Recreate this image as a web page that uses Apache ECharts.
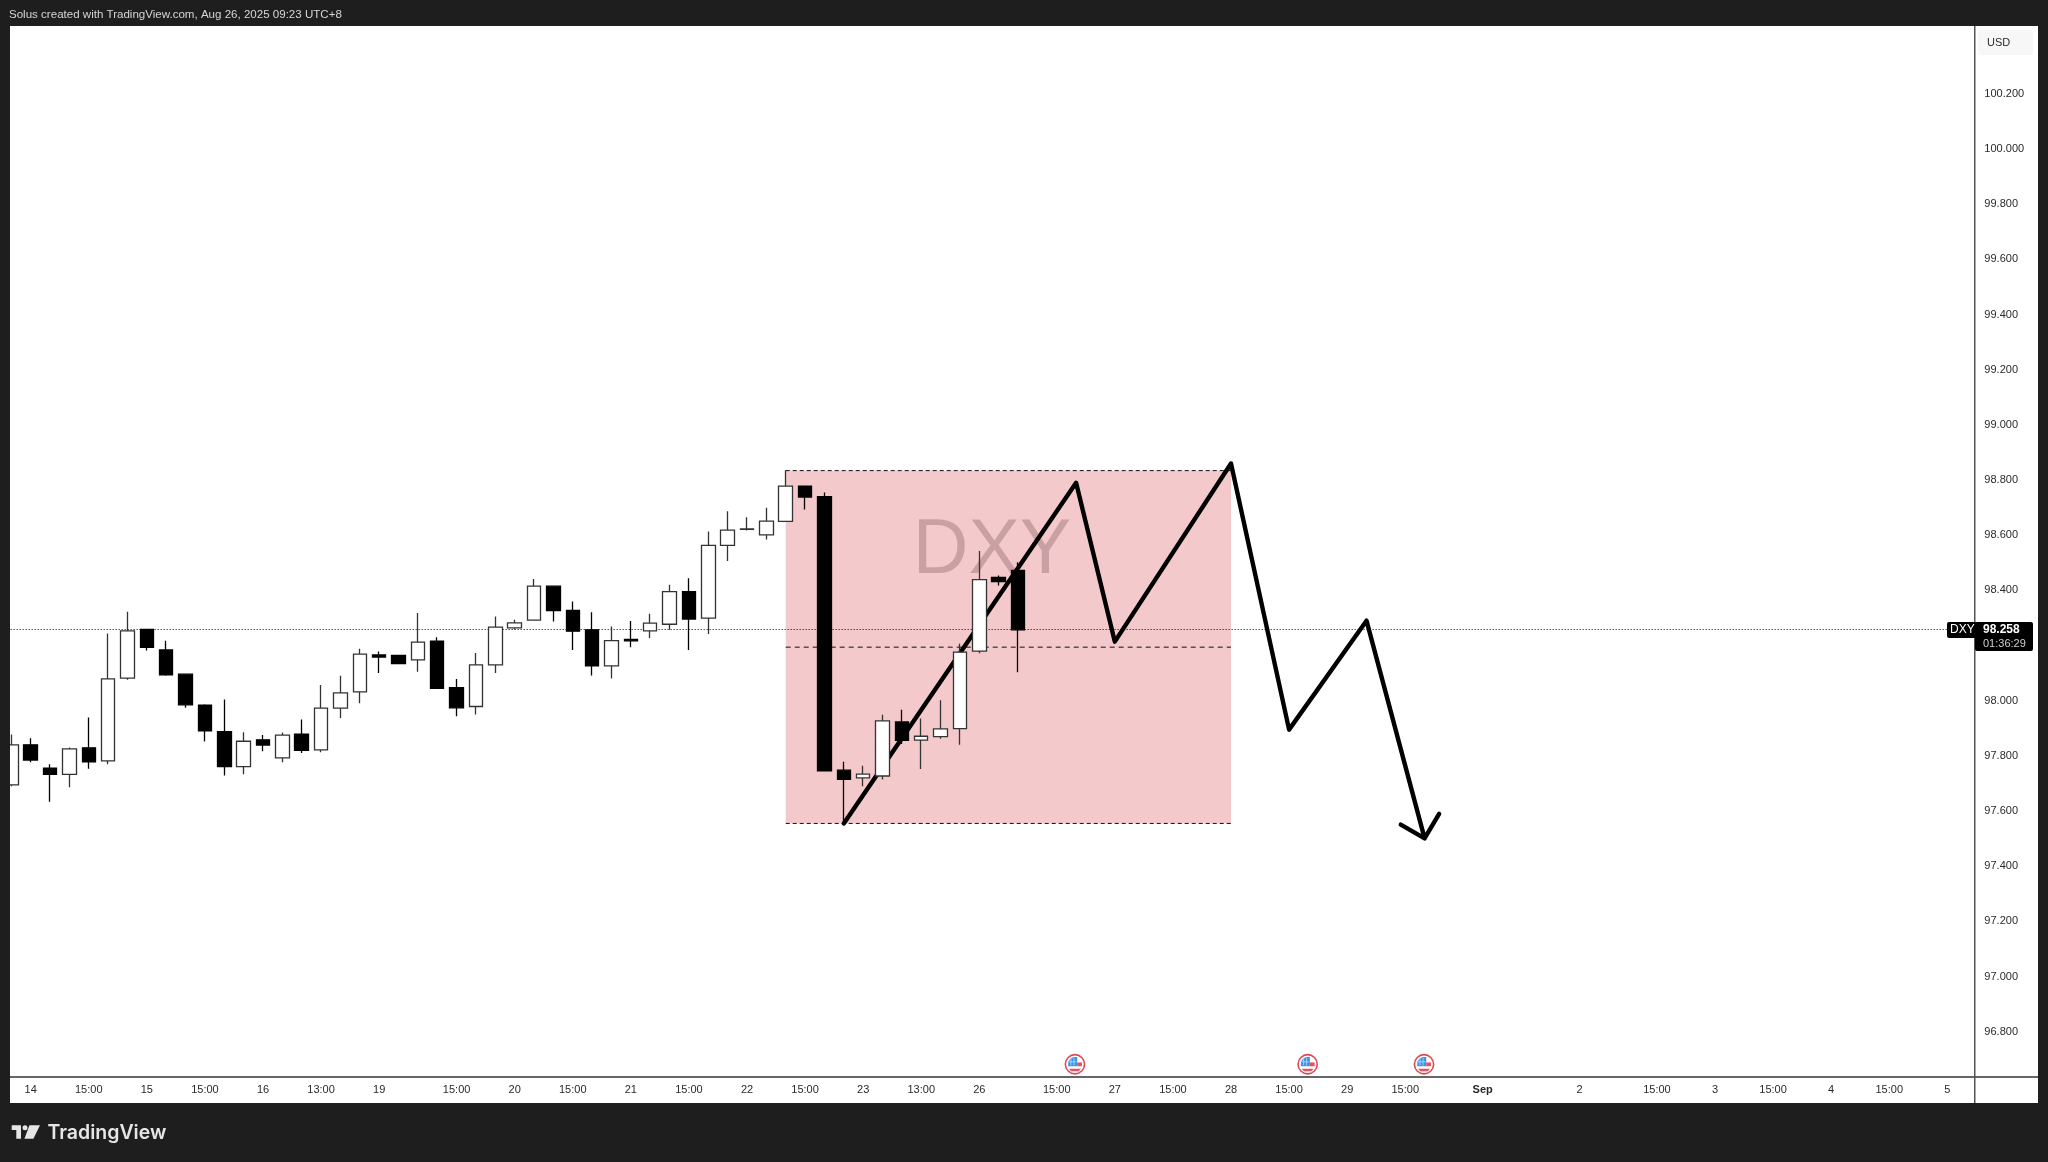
<!DOCTYPE html>
<html>
<head>
<meta charset="utf-8">
<title>DXY</title>
<style>
  html, body { margin: 0; padding: 0; background: #1e1e1e; }
  #chart { width: 2048px; height: 1162px; }
</style>
<script src="https://cdn.jsdelivr.net/npm/echarts@6/dist/echarts.min.js"></script>
</head>
<body>
<div id="chart"></div>
<script>
  // candles, one per 4h bar
  const opens = [97.695,97.840,97.755,97.733,97.829,97.782,98.082,98.258,98.184,98.096,97.984,97.888,97.761,97.858,97.793,97.879,97.822,97.973,98.032,98.166,98.164,98.148,98.216,98.047,97.979,98.130,98.264,98.292,98.415,98.327,98.257,98.126,98.222,98.253,98.277,98.395,98.299,98.563,98.621,98.601,98.650,98.778,98.740,97.748,97.720,97.727,97.923,97.857,97.870,97.899,98.180,98.447,98.472];
  const closes = [97.840,97.785,97.733,97.825,97.778,98.079,98.253,98.193,98.094,97.985,97.891,97.761,97.853,97.839,97.875,97.820,97.973,98.028,98.169,98.158,98.134,98.212,98.045,97.974,98.130,98.267,98.282,98.415,98.327,98.252,98.126,98.218,98.217,98.281,98.395,98.296,98.563,98.618,98.623,98.651,98.778,98.738,97.746,97.715,97.734,97.927,97.856,97.871,97.898,98.176,98.439,98.432,98.257];
  const lows = [97.690,97.777,97.634,97.686,97.753,97.770,98.076,98.182,98.090,97.974,97.852,97.729,97.733,97.817,97.777,97.810,97.813,97.937,97.991,98.100,98.134,98.105,98.045,97.944,97.950,98.100,98.258,98.292,98.287,98.184,98.091,98.080,98.194,98.227,98.257,98.184,98.242,98.506,98.617,98.584,98.650,98.693,97.743,97.555,97.690,97.714,97.843,97.752,97.862,97.840,98.172,98.418,98.103];
  const highs = [97.877,97.864,97.770,97.830,97.939,98.244,98.322,98.258,98.217,98.096,97.987,98.004,97.886,97.876,97.885,97.932,98.057,98.090,98.188,98.178,98.166,98.318,98.230,98.079,98.173,98.305,98.293,98.441,98.415,98.360,98.321,98.269,98.289,98.315,98.420,98.444,98.613,98.687,98.665,98.699,98.835,98.778,98.755,97.779,97.764,97.949,97.967,97.935,98.002,98.206,98.543,98.454,98.502];

  // time axis
  const barCount = 102;
  const tickBars = [1,4,7,10,13,16,19,23,26,29,32,35,38,41,44,47,50,54,57,60,63,66,69,72,76,81,85,88,91,94,97,100];
  const tickLabels = ['14','15:00','15','15:00','16','13:00','19','15:00','20','15:00','21','15:00','22','15:00','23','13:00','26','15:00','27','15:00','28','15:00','29','15:00','Sep','2','15:00','3','15:00','4','15:00','5'];

  // price axis
  const priceTicks = [96.8,97.0,97.2,97.4,97.6,97.8,98.0,98.2,98.4,98.6,98.8,99.0,99.2,99.4,99.6,99.8,100.0,100.2];
  const priceMin = 96.634;
  const priceMax = 100.444;
  const lastPrice = 98.258;

  // pink zone
  const zoneBars = [40, 63];
  const zoneTop = 98.834;
  const zoneMid = 98.194;
  const zoneBottom = 97.555;

  // hand drawn projection, last points are the arrow head
  const pathBars = [43,55,57,63,66,70,73,71.77,73,73.75];
  const pathPrices = [97.555,98.790,98.214,98.860,97.895,98.290,97.501,97.551,97.501,97.590];

  // news flags above the time axis
  const eventBars = [54.94,66.96,72.97];
  const eventPrice = 96.682;

  const categories = [];
  for (let i = 0; i < barCount; i++) {
    const at = tickBars.indexOf(i);
    categories.push(at >= 0 ? tickLabels[at] : '');
  }

  const candles = opens.map((o, i) => [o, closes[i], lows[i], highs[i]]);

  function zoneLine(price, dash) {
    return {
      type: 'line',
      xAxisIndex: 1,
      z: 1.7,
      silent: true,
      symbol: 'none',
      lineStyle: { color: '#111', width: 1, type: dash },
      data: [[zoneBars[0], price], [zoneBars[1], price]]
    };
  }

  function renderFlag(params, api) {
    const p = api.coord([api.value(0), api.value(1)]);
    return {
      type: 'group',
      x: p[0],
      y: p[1],
      children: [
        { type: 'circle', shape: { r: 9.6 }, style: { fill: '#fff', stroke: '#dd4a56', lineWidth: 1.6 } },
        { type: 'polygon', shape: { points: [[-6.8,2],[-6.6,-2.6],[-4.6,-5.6],[-1.6,-7.2],[2.2,-7.2],[2.2,2]] }, style: { fill: '#3b93ea' } },
        { type: 'rect', shape: { x: -4.4, y: -6, width: 0.8, height: 7 }, style: { fill: '#bcdcf8' } },
        { type: 'rect', shape: { x: -1.4, y: -6.8, width: 0.8, height: 8 }, style: { fill: '#bcdcf8' } },
        { type: 'rect', shape: { x: -6, y: -2.8, width: 7.5, height: 0.8 }, style: { fill: '#bcdcf8' } },
        { type: 'rect', shape: { x: 2.2, y: -1.8, width: 4.8, height: 3.8 }, style: { fill: '#e4545f' } },
        { type: 'polygon', shape: { points: [[-6,4.4],[6,4.4],[3.8,7],[-3.8,7]] }, style: { fill: '#e4545f' } }
      ]
    };
  }

  const chart = echarts.init(document.getElementById('chart'), null, { renderer: 'canvas' });
  chart.setOption({
    animation: false,
    backgroundColor: '#1e1e1e',
    textStyle: { fontFamily: '"Liberation Sans", Arial, sans-serif' },
    grid: { left: 1.64, top: 26.5, width: 1974.72, height: 1051 },
    xAxis: [
      {
        type: 'category',
        data: categories,
        boundaryGap: true,
        axisLine: { show: false },
        axisTick: { show: false },
        splitLine: { show: false },
        axisLabel: {
          interval: 0,
          margin: 7,
          fontSize: 11,
          color: '#2a2a2a',
          hideOverlap: false,
          formatter: (v) => (v === 'Sep' ? '{month|Sep}' : v),
          rich: { month: { fontSize: 11, fontWeight: 'bold', color: '#2a2a2a' } }
        }
      },
      { type: 'value', show: false, min: -0.5, max: barCount - 0.5 }
    ],
    yAxis: {
      type: 'value',
      position: 'right',
      min: priceMin,
      max: priceMax,
      axisLine: { show: false },
      axisTick: { show: false },
      splitLine: { show: false },
      axisLabel: {
        customValues: priceTicks,
        margin: 8,
        fontSize: 11,
        color: '#2a2a2a',
        formatter: (v) => v.toFixed(3)
      }
    },
    series: [
      {
        type: 'line',
        xAxisIndex: 1,
        z: 1,
        silent: true,
        symbol: 'none',
        data: [],
        markArea: {
          silent: true,
          itemStyle: { color: '#f4c9cb' },
          data: [[{ coord: [zoneBars[0], zoneTop] }, { coord: [zoneBars[1], zoneBottom] }]]
        }
      },
      zoneLine(zoneTop, [4, 3]),
      zoneLine(zoneMid, [5, 4]),
      zoneLine(zoneBottom, [4, 3]),
      {
        type: 'line',
        xAxisIndex: 1,
        z: 1.7,
        silent: true,
        symbol: 'none',
        lineStyle: { color: '#000', width: 1, type: [1, 2] },
        data: [[-0.5, lastPrice], [100, lastPrice]]
      },
      {
        type: 'line',
        xAxisIndex: 1,
        z: 1.8,
        silent: true,
        symbol: 'none',
        clip: false,
        lineStyle: { color: '#000', width: 4.4, cap: 'round', join: 'round' },
        data: pathBars.map((b, i) => [b, pathPrices[i]])
      },
      {
        type: 'candlestick',
        z: 3,
        barWidth: 14,
        silent: true,
        itemStyle: { color: '#fff', color0: '#000', borderColor: '#333', borderColor0: '#000', borderWidth: 1.3 },
        data: candles
      },
      {
        type: 'custom',
        xAxisIndex: 1,
        z: 4,
        silent: true,
        renderItem: renderFlag,
        data: eventBars.map((b) => [b, eventPrice])
      }
    ],
    graphic: [
      { type: 'rect', z: -1, silent: true, shape: { x: 10, y: 26, width: 2028, height: 1077 }, style: { fill: '#fff' } },
      { type: 'text', z: 1.5, silent: true, x: 992, y: 552, style: { text: 'DXY', fontSize: 77, fontFamily: '"Liberation Sans", Arial, sans-serif', fill: '#c9a1a4', align: 'center', verticalAlign: 'middle' } },

      // frame over the clipped first candle
      { type: 'rect', z: 10, silent: true, shape: { x: 0, y: 0, width: 10, height: 1162 }, style: { fill: '#1e1e1e' } },
      { type: 'line', z: 10, silent: true, shape: { x1: 10, y1: 1077, x2: 2038, y2: 1077 }, style: { stroke: '#666', lineWidth: 2 } },
      { type: 'line', z: 10, silent: true, shape: { x1: 1974.75, y1: 26, x2: 1974.75, y2: 1103 }, style: { stroke: '#555', lineWidth: 1.5 } },

      // header
      { type: 'text', z: 10, silent: true, x: 9, y: 15, style: { text: 'Solus created with TradingView.com, Aug 26, 2025 09:23 UTC+8', fontSize: 11.55, fontFamily: '"Liberation Sans", Arial, sans-serif', fill: '#d6d6d6', verticalAlign: 'middle' } },

      // currency box
      { type: 'rect', z: 10, silent: true, shape: { x: 1978, y: 30, width: 55, height: 25, r: 3 }, style: { fill: '#f7f7f7' } },
      { type: 'text', z: 11, silent: true, x: 1987, y: 43, style: { text: 'USD', fontSize: 11, fontFamily: '"Liberation Sans", Arial, sans-serif', fill: '#2a2a2a', verticalAlign: 'middle' } },

      // last price tag
      { type: 'rect', z: 10, silent: true, shape: { x: 1947, y: 622, width: 30, height: 16, r: 2 }, style: { fill: '#000' } },
      { type: 'rect', z: 10, silent: true, shape: { x: 1975, y: 622, width: 58, height: 29, r: 2 }, style: { fill: '#000' } },
      { type: 'text', z: 11, silent: true, x: 1950, y: 630, style: { text: 'DXY', fontSize: 12, fontFamily: '"Liberation Sans", Arial, sans-serif', fill: '#fff', verticalAlign: 'middle' } },
      { type: 'text', z: 11, silent: true, x: 1983, y: 630, style: { text: '98.258', fontSize: 12, fontWeight: 'bold', fontFamily: '"Liberation Sans", Arial, sans-serif', fill: '#fff', verticalAlign: 'middle' } },
      { type: 'text', z: 11, silent: true, x: 1983, y: 644, style: { text: '01:36:29', fontSize: 11, fontFamily: '"Liberation Sans", Arial, sans-serif', fill: '#cfcfcf', verticalAlign: 'middle' } },

      // logo
      { type: 'polygon', z: 10, silent: true, shape: { points: [[11.7,1125.3],[21,1125.3],[21,1138.7],[16.3,1138.7],[16.3,1130],[11.7,1130]] }, style: { fill: '#e6e6e6' } },
      { type: 'circle', z: 10, silent: true, shape: { cx: 25, cy: 1127.8, r: 2.5 }, style: { fill: '#e6e6e6' } },
      { type: 'polygon', z: 10, silent: true, shape: { points: [[29.5,1125.3],[40,1125.3],[33.4,1138.7],[24.4,1138.7]] }, style: { fill: '#e6e6e6' } },
      { type: 'text', z: 10, silent: true, x: 47.5, y: 1133, style: { text: 'TradingView', fontSize: 19.5, fontWeight: 600, fontFamily: 'Inter, "Liberation Sans", sans-serif', fill: '#e6e6e6', verticalAlign: 'middle' } }
    ]
  });
</script>
</body>
</html>
